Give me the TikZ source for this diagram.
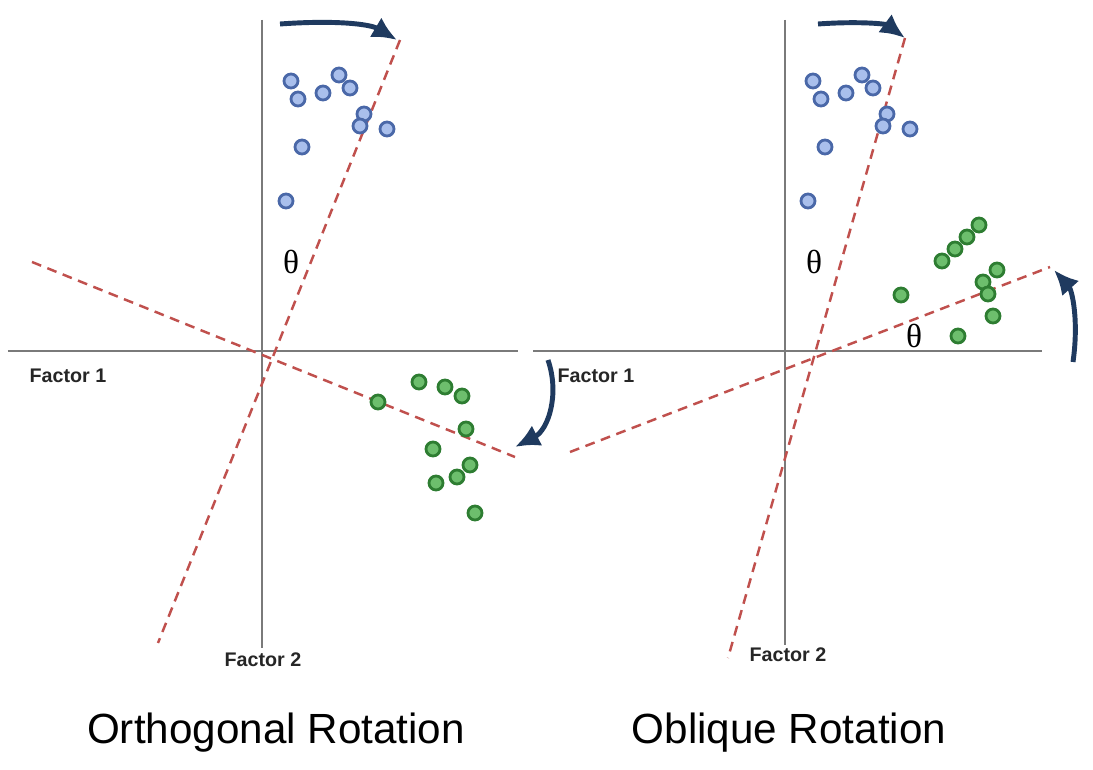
\documentclass[tikz,border=0pt]{standalone}
\usepackage{fontspec}
\setmainfont{Liberation Sans}
\newfontfamily\thetafont{Liberation Serif}
\usetikzlibrary{arrows.meta}
\definecolor{axisgray}{HTML}{7A7A7A}
\definecolor{reddash}{HTML}{C0504D}
\definecolor{navy}{HTML}{1F3A5F}
\definecolor{bluefill}{HTML}{A9BFEC}
\definecolor{blueedge}{HTML}{4A68A8}
\definecolor{greenfill}{HTML}{6DBE6D}
\definecolor{greenedge}{HTML}{2E7D32}
\tikzset{
  axisline/.style={draw=axisgray, line width=0.6pt},
  rotline/.style={draw=reddash, line width=0.7pt, dash pattern=on 2.8pt off 1.9pt},
  rotarrow/.style={draw=navy, line width=1.4pt, -{Latex[length=7pt,width=6.5pt]}},
  bdot/.style={circle, draw=blueedge, fill=bluefill, line width=0.8pt, minimum size=0.14cm, inner sep=0pt},
  gdot/.style={circle, draw=greenedge, fill=greenfill, line width=0.8pt, minimum size=0.14cm, inner sep=0pt},
  factorlabel/.style={font=\fontsize{5.6}{6}\selectfont\bfseries, text=black!85},
  thetalabel/.style={font=\thetafont\fontsize{9.5}{10}\selectfont},
  titlelabel/.style={font=\fontsize{12}{14}\selectfont}
}
\begin{document}
\begin{tikzpicture}[x=0.01cm, y=-0.01cm]
\useasboundingbox (0,0) rectangle (1093,770);
\fill[white] (0,0) rectangle (1093,770);

% ---------- Left panel: orthogonal ----------
\coordinate (LvT) at (262,20);
\coordinate (LvB) at (262,648);
\coordinate (LhL) at (8,351);
\coordinate (LhR) at (518,351);
\draw[axisline] (LvT) -- (LvB);
\draw[axisline] (LhL) -- (LhR);

\coordinate (La1) at (400,40);
\coordinate (La2) at (158,643);
\coordinate (Lb1) at (32,262);
\coordinate (Lb2) at (515,457);
\draw[rotline] (La1) -- (La2);
\draw[rotline] (Lb1) -- (Lb2);

\coordinate (Ltop0) at (280,24);
\coordinate (Ltop1) at (397,40);
\draw[rotarrow] (Ltop0) .. controls (335,20) and (370,24) .. (Ltop1);
\coordinate (Lbot0) at (548,360);
\coordinate (Lbot1) at (515,447);
\draw[rotarrow] (Lbot0) .. controls (560,395) and (548,430) .. (Lbot1);

\foreach \p [count=\i] in {(291,81),(298,99),(323,93),(339,75),(350,88),(364,114),(360,126),(387,129),(302,147),(286,201)}
  \node[bdot] (lb\i) at \p {};
\foreach \p [count=\i] in {(419,382),(445,387),(462,396),(378,402),(466,429),(433,449),(470,465),(457,477),(436,483),(475,513)}
  \node[gdot] (lg\i) at \p {};

\node[thetalabel] (Lth) at (291,262) {θ};
\node[factorlabel] (Lf1) at (68,376) {Factor 1};
\node[factorlabel] (Lf2) at (263,660) {Factor 2};
\node[titlelabel] (Ltitle) at (276,733) {Orthogonal Rotation};

% ---------- Right panel: oblique ----------
\coordinate (RvT) at (785,20);
\coordinate (RvB) at (785,645);
\coordinate (RhL) at (533,351);
\coordinate (RhR) at (1042,351);
\draw[axisline] (RvT) -- (RvB);
\draw[axisline] (RhL) -- (RhR);

\coordinate (Ra1) at (905,38);
\coordinate (Ra2) at (728,658);
\coordinate (Rb1) at (570,452);
\coordinate (Rb2) at (1050,267);
\draw[rotline] (Ra1) -- (Ra2);
\draw[rotline] (Rb1) -- (Rb2);

\coordinate (Rtop0) at (818,24);
\coordinate (Rtop1) at (905,38);
\draw[rotarrow] (Rtop0) .. controls (860,21) and (886,24) .. (Rtop1);
\coordinate (Rr0) at (1073,362);
\coordinate (Rr1) at (1054,270);
\draw[rotarrow] (Rr0) .. controls (1079,320) and (1072,290) .. (Rr1);

\foreach \p [count=\i] in {(813,81),(821,99),(846,93),(862,75),(873,88),(887,114),(883,126),(910,129),(825,147),(808,201)}
  \node[bdot] (rb\i) at \p {};
\foreach \p [count=\i] in {(979,225),(967,237),(955,249),(942,261),(997,270),(983,282),(988,294),(901,295),(993,316),(958,336)}
  \node[gdot] (rg\i) at \p {};

\node[thetalabel] (Rth1) at (814,262) {θ};
\node[thetalabel] (Rth2) at (914,336) {θ};
\node[factorlabel] (Rf1) at (596,376) {Factor 1};
\node[factorlabel] (Rf2) at (788,655) {Factor 2};
\node[titlelabel] (Rtitle) at (789,733) {Oblique Rotation};
\end{tikzpicture}
\end{document}
